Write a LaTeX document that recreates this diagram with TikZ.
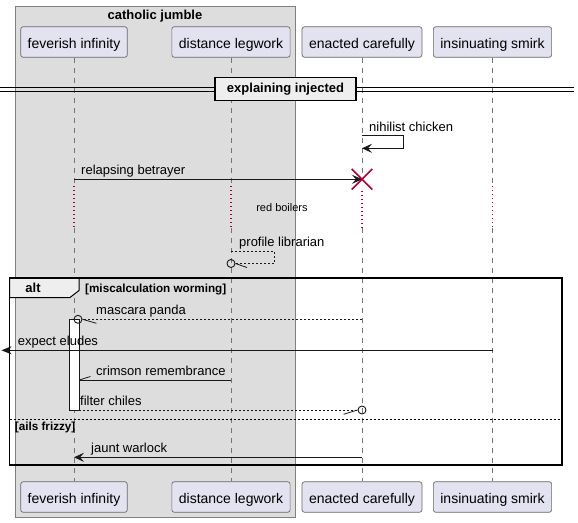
\documentclass[tikz,border=0pt]{standalone}
\usepackage{fontspec}
\setmainfont{Liberation Sans}
\usetikzlibrary{arrows.meta,shapes.misc}
\definecolor{grpfill}{HTML}{DDDDDD}
\definecolor{partfill}{HTML}{E2E2F0}
\definecolor{partline}{HTML}{181818}
\definecolor{crim}{HTML}{A80036}
\definecolor{tabfill}{HTML}{EEEEEE}
\begin{document}
\begin{tikzpicture}[x=1pt,y=-1pt,
  part/.style={draw=partline!65, line width=0.7pt, fill=partfill, rounded corners=2.5pt,
    minimum height=30.6pt, inner xsep=7pt, inner ysep=0pt, text height=12.6pt, text depth=0pt,
    font=\fontsize{14}{16}\selectfont},
  life/.style={draw=partline!60, line width=0.7pt, dash pattern=on 5pt off 5pt},
  delay/.style={draw=crim, line width=1.3pt, dash pattern=on 1.3pt off 2.7pt},
  msg/.style={draw=partline, line width=0.8pt},
  dmsg/.style={msg, dash pattern=on 2pt off 2pt},
  lbl/.style={font=\fontsize{13}{15}\selectfont, anchor=base west, inner sep=0pt},
  blbl/.style={font=\bfseries\fontsize{11.7}{13}\selectfont, anchor=west, inner sep=0pt},
  head/.style={-{Stealth[length=10pt,width=9pt,inset=4pt]}},
  ring/.style={circle, draw=partline, line width=0.9pt, minimum size=8pt, inner sep=0pt}
]
\useasboundingbox (0,0) rectangle (578,522);

% group box
\draw[fill=grpfill, draw=black!50, line width=0.8pt] (15,6.5) rectangle (295,517.5);
\node[font=\bfseries\fontsize{13}{15}\selectfont, inner sep=0pt] (grp) at (155,16) {catholic jumble};

% participants
\node[part] (fiT) at (74,42) {feverish infinity};
\node[part] (dlT) at (231,42) {distance legwork};
\node[part] (ecT) at (362,42) {enacted carefully};
\node[part] (isT) at (492.5,42) {insinuating smirk};
\node[part] (fiB) at (74,497) {feverish infinity};
\node[part] (dlB) at (231,497) {distance legwork};
\node[part] (ecB) at (362,497) {enacted carefully};
\node[part] (isB) at (492.5,497) {insinuating smirk};

% row coordinates
\coordinate (r1) at (0,135.7);
\coordinate (r1b) at (0,148.3);
\coordinate (r2) at (0,179.3);
\coordinate (d1) at (0,186);
\coordinate (d1e) at (0,190.5);
\coordinate (d2) at (0,228);
\coordinate (r3) at (0,251);
\coordinate (r3b) at (0,263.5);
\coordinate (r4) at (0,319.3);
\coordinate (r5) at (0,350.3);
\coordinate (r6) at (0,380);
\coordinate (r7) at (0,410);
\coordinate (r8) at (0,457.3);

% lifelines
\foreach \p in {fi,dl,is}{
  \draw[life] (\p T.south) -- (\p T.south |- d1);
  \draw[delay] (\p T.south |- d1) -- (\p T.south |- d2);
  \draw[life] (\p T.south |- d2) -- (\p B.north);
}
\draw[life] (ecT.south) -- (ecT.south |- r2);
\draw[delay] (ecT.south |- d1e) -- (ecT.south |- d2);
\draw[life] (ecT.south |- d2) -- (ecB.north);

% divider
\draw[line width=0.9pt] (0,87.5) -- (574,87.5) (0,91.3) -- (574,91.3);
\node[draw, line width=1.8pt, fill=tabfill, minimum width=141pt, minimum height=23pt, inner sep=0pt,
  font=\bfseries\fontsize{13}{15}\selectfont] (div) at (285.5,89) {explaining injected};

% nihilist chicken
\draw[msg,head] (ecT.south |- r1) -- ++(41,0) -- ++(0,12.6) -- (ecT.south |- r1b);
\node[lbl] (m1) at (369,131.3) {nihilist chicken};

% relapsing betrayer
\draw[msg,head] (fiT.south |- r2) -- (ecT.south |- r2);
\node[lbl] (m2) at (81,174.3) {relapsing betrayer};
\node[cross out, draw=crim, line width=1.6pt, minimum size=19pt, inner sep=0pt] (xx) at (ecT.south |- r2) {};

% delay text
\node[font=\fontsize{11}{13}\selectfont, inner sep=0pt] (dtxt) at (282,208) {red boilers};

% profile librarian
\node[ring] (c1) at (dlT.south |- r3b) {};
\draw[dmsg] (dlT.south |- r3) -- ++(43,0) -- ++(0,12.5) -- (c1.east);
\draw[msg] (c1.east) -- ++(11.5,4);
\node[lbl] (m3) at (239,246.3) {profile librarian};

% alt frame background tab
\draw[line width=1pt, fill=tabfill] (9.5,278) -- (79,278) -- (79,290.5) -- (70,297.5) -- (9.5,297.5) -- cycle;
\node[font=\bfseries\fontsize{13}{15}\selectfont, inner sep=0pt] (alt) at (33,288) {alt};
\node[blbl] (g1) at (85,289) {[miscalculation worming]};

% activation
\node[draw=partline, fill=white, line width=0.8pt, minimum width=10pt, minimum height=90.7pt,
  inner sep=0pt, anchor=north] (act) at (74,319.3) {};

% mascara panda
\node[ring] (c2) at (78,319.3) {};
\draw[dmsg] (ecT.south |- r4) -- (c2.east);
\draw[msg] (c2.east) -- ++(14,4);
\node[lbl] (m4) at (96,314.3) {mascara panda};

% expect eludes
\coordinate (lost) at (1.5,350.3);
\draw[msg,-{Stealth[length=10pt,width=8pt,inset=3pt]}] (isT.south |- r5) -- (lost);
\node[lbl] (m5) at (17.6,345.3) {expect eludes};

% crimson remembrance
\draw[msg] (dlT.south |- r6) -- (act.east |- r6);
\draw[msg] (act.east |- r6) -- ++(11,-3.5);
\node[lbl] (m6) at (96,375.3) {crimson remembrance};

% filter chiles
\node[ring] (c3) at (ecT.south |- r7) {};
\draw[dmsg] (act.east |- r7) -- (c3.west);
\draw[msg] (c3.west) -- ++(-14,4.3);
\node[lbl] (m7) at (80,405.3) {filter chiles};

% separator
\draw[line width=0.8pt, dash pattern=on 2pt off 2pt] (9.5,419.3) -- (562,419.3);
\node[blbl] (g2) at (14.7,427.3) {[ails frizzy]};

% jaunt warlock
\draw[msg,head] (ecT.south |- r8) -- (fiT.south |- r8);
\node[lbl] (m8) at (91,452.3) {jaunt warlock};

% alt frame
\draw[line width=1.5pt] (9.5,278) rectangle (562,465);
\end{tikzpicture}
\end{document}
